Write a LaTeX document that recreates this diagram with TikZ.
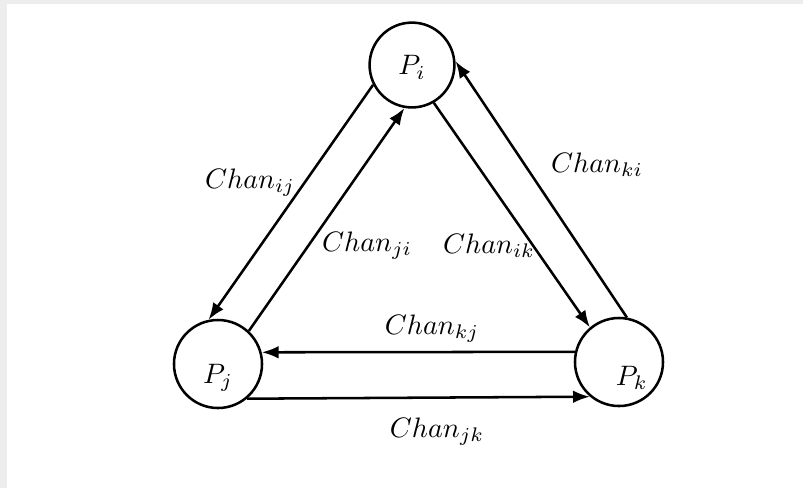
\documentclass[tikz,border=0pt]{standalone}
\usetikzlibrary{arrows.meta}

\tikzset{
    proc/.style={draw, circle, line width=0.9pt, minimum size=1.06cm, inner sep=0pt},
    chan/.style={line width=0.9pt, -{Latex[length=6pt,width=4.5pt]}},
}

\begin{document}
\begin{tikzpicture}[x=0.0125cm, y=-0.0125cm]
    \useasboundingbox (0,0) rectangle (803,488);
    % screenshot frame
    \fill[black!7] (0,0) rectangle (803,4);
    \fill[black!7] (0,0) rectangle (7,488);

    % processes
    \node[proc, label={[yshift=-0.03cm]center:$P_i$}] (pi) at (412,65) {};
    \node[proc, minimum size=1.1cm, label={[yshift=-0.17cm]center:$P_j$}] (pj) at (218,364) {};
    \node[proc, minimum size=1.1cm, label={[xshift=0.16cm, yshift=-0.2cm]center:$P_k$}] (pk) at (619,362) {};

    % channels
    \draw[chan] (pi.207) -- (pj.102);
    \draw[chan] (pj.47) -- (pi.260);
    \draw[chan] (pi.300) -- (pk.130);
    \draw[chan] (pk.80) -- (pi.5);
    \draw[chan] (pk.167) -- (pj.15);
    \draw[chan] (pj.-50) -- (pk.230);

    % labels
    \node (lij) at (250,183) {$Chan_{ij}$};
    \node (lji) at (367,246) {$Chan_{ji}$};
    \node (lik) at (489,246) {$Chan_{ik}$};
    \node (lki) at (597,165) {$Chan_{ki}$};
    \node (lkj) at (432,329) {$Chan_{kj}$};
    \node (ljk) at (437,432) {$Chan_{jk}$};
\end{tikzpicture}
\end{document}
